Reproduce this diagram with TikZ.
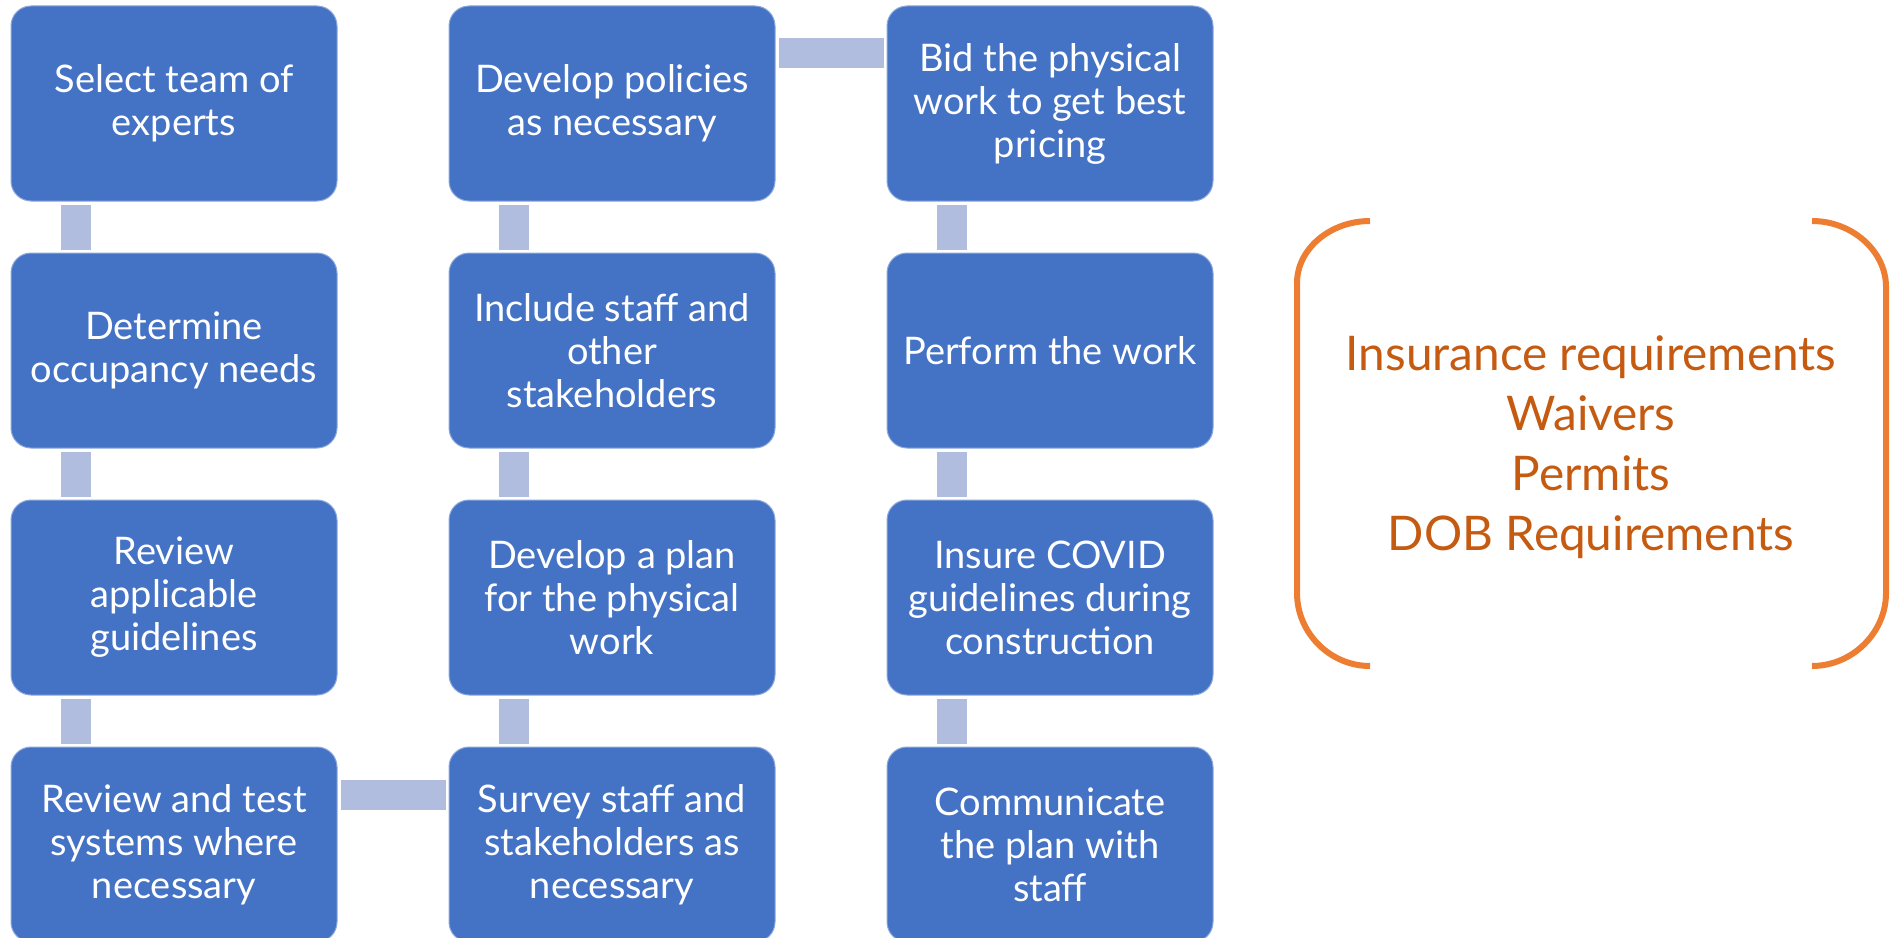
\documentclass[tikz,border=0pt]{standalone}
\usepackage{fontspec}
\setmainfont{Lato}
\usetikzlibrary{calc}

\definecolor{boxblue}{RGB}{68,114,196}
\definecolor{linkblue}{RGB}{176,189,222}
\definecolor{bracketorange}{RGB}{237,125,49}
\definecolor{textorange}{RGB}{197,90,17}

\tikzset{every picture/.style={line width=0.75pt}}
\tikzset{
  stepbox/.style={draw={rgb, 255:red, 140; green, 168; blue, 220}, fill=boxblue, rounded corners=15pt,
    minimum width=244.5pt, minimum height=146.25pt, inner sep=0pt, text=white, align=center,
    font=\fontsize{28.5}{32.25}\selectfont},
  linkbar/.style={fill=linkblue},
  notetext/.style={text=textorange, align=center, inner sep=0pt, font=\fontsize{35.8}{45}\selectfont}
}

\begin{document}
\begin{tikzpicture}[x=0.75pt,y=0.75pt,yscale=-1,xscale=1]
\useasboundingbox (0,0) rectangle (1894,938);
\clip (0,0) rectangle (1894,938);

% Column 1
\node [stepbox] (select) at (174,103.5) {Select team of\\experts};
\node [stepbox] (occupancy) at (174,350.5) {Determine\\occupancy needs};
\node [stepbox] (guidelines) at (174,597.5) {Review\\applicable\\guidelines};
\node [stepbox] (systems) at (174,844.5) {Review and test\\systems where\\necessary};
% Column 2
\node [stepbox] (policies) at (612,103.5) {Develop policies\\as necessary};
\node [stepbox] (include) at (612,350.5) {Include staff and\\other\\stakeholders};
\node [stepbox] (plan) at (612,597.5) {Develop a plan\\for the physical\\work};
\node [stepbox] (survey) at (612,844.5) {Survey staff and\\stakeholders as\\necessary};
% Column 3
\node [stepbox] (bid) at (1050,103.5) {Bid the physical\\work to get best\\pricing};
\node [stepbox] (perform) at (1050,350.5) {Perform the work};
\node [stepbox] (covid) at (1050,597.5) {Insure COVID\\guidelines during\\construction};
\node [stepbox] (communicate) at (1050,844.5) {Communicate\\the plan with\\staff};

% Links down column 1
\fill [linkbar] ($(select.south west)+(50,3)$) rectangle ($(occupancy.north west)+(80,-3)$);
\fill [linkbar] ($(occupancy.south west)+(50,3)$) rectangle ($(guidelines.north west)+(80,-3)$);
\fill [linkbar] ($(guidelines.south west)+(50,3)$) rectangle ($(systems.north west)+(80,-3)$);
% Link across the bottom
\fill [linkbar] ($(systems.north east)+(3,33)$) rectangle ($(survey.north west)+(-3,63)$);
% Links up column 2
\fill [linkbar] ($(plan.south west)+(50,3)$) rectangle ($(survey.north west)+(80,-3)$);
\fill [linkbar] ($(include.south west)+(50,3)$) rectangle ($(plan.north west)+(80,-3)$);
\fill [linkbar] ($(policies.south west)+(50,3)$) rectangle ($(include.north west)+(80,-3)$);
% Link across the top
\fill [linkbar] ($(policies.north east)+(3,33)$) rectangle ($(bid.north west)+(-3,63)$);
% Links down column 3
\fill [linkbar] ($(bid.south west)+(50,3)$) rectangle ($(perform.north west)+(80,-3)$);
\fill [linkbar] ($(perform.south west)+(50,3)$) rectangle ($(covid.north west)+(80,-3)$);
\fill [linkbar] ($(covid.south west)+(50,3)$) rectangle ($(communicate.north west)+(80,-3)$);

% Bracket
\draw [color=bracketorange, line width=4.5pt] (1370,221) .. controls (1330,221) and (1297,249) .. (1297,283) -- (1297,593) .. controls (1297,633) and (1330,666) .. (1370,666) ;
\draw [color=bracketorange, line width=4.5pt] (1812,221) .. controls (1852,221) and (1886,251) .. (1886,287) -- (1886,593) .. controls (1886,633) and (1852,666) .. (1812,666) ;

% Text Node
\node [notetext] (notes) at (1591,447) {Insurance requirements\\Waivers\\Permits\\DOB Requirements};

\end{tikzpicture}
\end{document}
